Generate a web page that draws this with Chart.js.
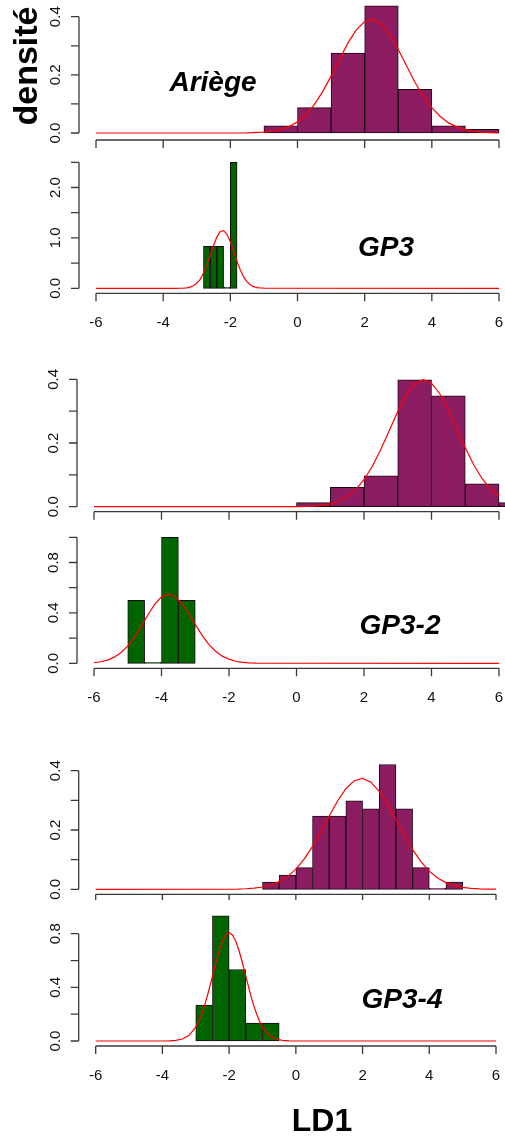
<!DOCTYPE html>
<html>
<head>
<meta charset="utf-8">
<script src="https://cdn.jsdelivr.net/npm/chart.js@4.4.1/dist/chart.umd.min.js"></script>
<style>
  html, body { margin: 0; padding: 0; background: #fff; }
  #wrap { position: relative; width: 505px; height: 1137px; overflow: hidden; }
  #wrap canvas { position: absolute; left: 0; }
</style>
</head>
<body>
<div id="wrap">
  <canvas id="c1" width="505" height="155" style="top:0px"></canvas>
  <canvas id="c2" width="505" height="185" style="top:155px"></canvas>
  <canvas id="c3" width="505" height="180" style="top:340px"></canvas>
  <canvas id="c4" width="505" height="200" style="top:520px"></canvas>
  <canvas id="c5" width="505" height="180" style="top:720px"></canvas>
  <canvas id="c6" width="505" height="237" style="top:900px"></canvas>
</div>
<script>
// --- données ---
const xTicks = [-6, -4, -2, 0, 2, 4, 6];
const xLabels = ["-6", "-4", "-2", "0", "2", "4", "6"];

// bloc 1 : Ariège / GP3
const ariegeMids = [-0.5, 0.5, 1.5, 2.5, 3.5, 4.5, 5.5];
const ariegeDens = [0.025, 0.0875, 0.275, 0.4375, 0.15, 0.025, 0.0125];
const ariegeCurveX = [-6, -1.5, -1, -0.75, -0.5, -0.25, 0, 0.25, 0.5, 0.75, 1, 1.25, 1.5, 1.75, 2, 2.25, 2.5, 2.75, 3, 3.25, 3.5, 3.75, 4, 4.25, 4.5, 4.75, 5, 5.25, 5.5, 5.75, 6];
const ariegeCurveY = [0, 0.0006, 0.0029, 0.006, 0.0118, 0.0219, 0.0382, 0.0628, 0.0975, 0.1423, 0.1957, 0.2533, 0.309, 0.3547, 0.3836, 0.3905, 0.3744, 0.3381, 0.2875, 0.2302, 0.1736, 0.1252, 0.0874, 0.0569, 0.0348, 0.0202, 0.011, 0.0055, 0.0026, 0.0011, 0.0004];

const gp3Mids = [-2.7, -2.5, -2.3, -2.1, -1.9];
const gp3Dens = [0.833, 0.833, 0.833, 0, 2.5];
const gp3CurveX = [-6, -3.6, -3.5, -3.4, -3.3, -3.2, -3.1, -3.0, -2.9, -2.8, -2.7, -2.6, -2.5, -2.4, -2.3, -2.2, -2.1, -2.0, -1.9, -1.8, -1.7, -1.6, -1.5, -1.4, -1.3, -1.2, -1.1, -1.0, 6];
const gp3CurveY = [0, 0.0003, 0.0014, 0.0039, 0.0099, 0.0231, 0.0496, 0.0981, 0.1783, 0.2984, 0.4597, 0.6516, 0.8496, 1.02, 1.1268, 1.1457, 1.072, 0.9232, 0.7316, 0.5337, 0.3583, 0.2213, 0.1258, 0.0658, 0.0317, 0.0141, 0.0057, 0.0021, 0];

// bloc 2 : (haut) / GP3-2
const bloc2Mids = [0.5, 1.5, 2.5, 3.5, 4.5, 5.5, 6.5];
const bloc2Dens = [0.013, 0.061, 0.097, 0.398, 0.348, 0.072, 0.013];
const bloc2CurveX = [-6, 0, 0.25, 0.5, 0.75, 1, 1.25, 1.5, 1.75, 2, 2.25, 2.5, 2.75, 3, 3.25, 3.5, 3.75, 4, 4.25, 4.5, 4.75, 5, 5.25, 5.5, 5.75, 6];
const bloc2CurveY = [0, 0.0003, 0.0008, 0.002, 0.0043, 0.0089, 0.0171, 0.031, 0.0529, 0.0848, 0.1276, 0.1804, 0.2396, 0.2989, 0.3503, 0.3858, 0.399, 0.3877, 0.3539, 0.3034, 0.2444, 0.185, 0.1315, 0.0878, 0.0551, 0.0345];

const gp32Mids = [-4.75, -4.25, -3.75, -3.25];
const gp32Dens = [0.5, 0, 1.0, 0.5];
const gp32CurveX = [-6, -5.8, -5.6, -5.4, -5.2, -5.0, -4.8, -4.6, -4.4, -4.2, -4.0, -3.8, -3.6, -3.4, -3.2, -3.0, -2.8, -2.6, -2.4, -2.2, -2.0, -1.8, -1.6, -1.4, -1.2, -1.0, 6];
const gp32CurveY = [0.0056, 0.0125, 0.0256, 0.0487, 0.086, 0.1356, 0.2062, 0.2928, 0.3856, 0.4689, 0.5276, 0.549, 0.5306, 0.4769, 0.3976, 0.3088, 0.2232, 0.1506, 0.096, 0.0567, 0.0326, 0.0165, 0.0076, 0.0032, 0.0012, 0.0004, 0];

// bloc 3 : (haut) / GP3-4
const bloc3Mids = [-0.75, -0.25, 0.25, 0.75, 1.25, 1.75, 2.25, 2.75, 3.25, 3.75, 4.25, 4.75];
const bloc3Dens = [0.024, 0.048, 0.073, 0.247, 0.247, 0.298, 0.271, 0.421, 0.271, 0.073, 0, 0.024];
const bloc3CurveX = [-6, -1.75, -1.5, -1.25, -1, -0.75, -0.5, -0.25, 0, 0.25, 0.5, 0.75, 1, 1.25, 1.5, 1.75, 2, 2.25, 2.5, 2.75, 3, 3.25, 3.5, 3.75, 4, 4.25, 4.5, 4.75, 5, 5.25, 5.5, 5.75, 6];
const bloc3CurveY = [0, 0.0009, 0.0019, 0.0039, 0.0078, 0.0145, 0.0257, 0.0429, 0.0681, 0.102, 0.1448, 0.1946, 0.2474, 0.2978, 0.3394, 0.3661, 0.374, 0.3614, 0.3306, 0.2863, 0.2347, 0.1821, 0.1338, 0.0931, 0.0612, 0.0381, 0.0225, 0.0126, 0.0066, 0.0033, 0.0016, 0.0007, 0.0003];

const gp34Mids = [-2.75, -2.25, -1.75, -1.25, -0.75];
const gp34Dens = [0.267, 0.933, 0.533, 0.133, 0.133];
const gp34CurveX = [-6, -4, -3.8, -3.6, -3.4, -3.2, -3.0, -2.9, -2.8, -2.7, -2.6, -2.5, -2.4, -2.3, -2.2, -2.1, -2.0, -1.9, -1.8, -1.7, -1.6, -1.5, -1.4, -1.3, -1.2, -1.1, -1.0, -0.8, -0.6, -0.4, -0.2, 0, 6];
const gp34CurveY = [0, 0, 0.0011, 0.0043, 0.0146, 0.0422, 0.104, 0.1534, 0.2176, 0.2957, 0.3858, 0.4836, 0.5814, 0.6711, 0.7435, 0.7906, 0.807, 0.7906, 0.7435, 0.6711, 0.5814, 0.4836, 0.3858, 0.2957, 0.2176, 0.1534, 0.104, 0.0422, 0.0146, 0.0043, 0.0011, 0, 0];

const yTicks04 = [0, 0.1, 0.2, 0.3, 0.4];
const yLabels04 = ["0.0", "", "0.2", "", "0.4"];
const yTicks25 = [0, 0.5, 1.0, 1.5, 2.0, 2.5];
const yLabels25 = ["0.0", "", "1.0", "", "2.0", ""];
const yTicks10 = [0, 0.2, 0.4, 0.6, 0.8, 1.0];
const yLabels10 = ["0.0", "", "0.4", "", "0.8", ""];
const yTicks08 = [0, 0.2, 0.4, 0.6, 0.8];
const yLabels08 = ["0.0", "", "0.4", "", "0.8"];

const PURPLE = "#8B1C62";
const GREEN = "#006400";
const FONT = '"Liberation Sans", Arial, sans-serif';

// axes façon R (décalés du cadre), dessinés via les échelles Chart.js
const axesR = {
  id: "axesR",
  afterDraw(chart, args, o) {
    const { ctx, chartArea } = chart;
    const xs = chart.scales.x, ys = chart.scales.y;
    ctx.save();
    ctx.strokeStyle = "#3a3a3a";
    ctx.lineWidth = 1.3;
    ctx.fillStyle = "#111";

    // axe y
    const ax = chartArea.left - 17;
    ctx.beginPath();
    ctx.moveTo(ax, ys.getPixelForValue(o.yTicks[0]));
    ctx.lineTo(ax, ys.getPixelForValue(o.yTicks[o.yTicks.length - 1]));
    o.yTicks.forEach((v) => {
      const py = ys.getPixelForValue(v);
      ctx.moveTo(ax, py);
      ctx.lineTo(ax - 8, py);
    });
    ctx.stroke();
    ctx.font = "15px " + FONT;
    ctx.textAlign = "center";
    ctx.textBaseline = "middle";
    o.yTicks.forEach((v, i) => {
      if (!o.yLabels[i]) return;
      ctx.save();
      ctx.translate(ax - 23, ys.getPixelForValue(v));
      ctx.rotate(-Math.PI / 2);
      ctx.fillText(o.yLabels[i], 0, 0);
      ctx.restore();
    });

    // axe x
    const ay = chartArea.bottom + o.gap;
    ctx.beginPath();
    ctx.moveTo(xs.getPixelForValue(xTicks[0]), ay);
    ctx.lineTo(xs.getPixelForValue(xTicks[xTicks.length - 1]), ay);
    xTicks.forEach((v) => {
      const px = xs.getPixelForValue(v);
      ctx.moveTo(px, ay);
      ctx.lineTo(px, ay + 8);
    });
    ctx.stroke();
    if (o.showX) {
      xTicks.forEach((v, i) => ctx.fillText(xLabels[i], xs.getPixelForValue(v), ay + 30));
    }

    // nom du groupe
    ctx.font = "italic bold 28px " + FONT;
    ctx.fillStyle = "#000";
    ctx.fillText(o.title, o.tx, o.ty);

    if (o.ylab) {
      ctx.save();
      ctx.font = "bold 34px " + FONT;
      ctx.translate(28, 66);
      ctx.rotate(-Math.PI / 2);
      ctx.fillText("densité", 0, 0);
      ctx.restore();
    }
    if (o.xlab) {
      ctx.font = "bold 32px " + FONT;
      ctx.fillText("LD1", 322, 222);
    }
    ctx.restore();
  },
};

function makeHist(id, mids, dens, cx, cy, color, ymax, pad, axOpts) {
  const ctx = document.getElementById(id).getContext("2d");
  return new Chart(ctx, {
    type: "bar",
    data: {
      datasets: [
        {
          type: "line",
          data: cx.map((x, i) => ({ x: x, y: cy[i] })),
          borderColor: "#FF0000",
          borderWidth: 1.2,
          pointRadius: 0,
          tension: 0,
          fill: false,
          clip: false,
        },
        {
          type: "bar",
          data: mids.map((x, i) => ({ x: x, y: dens[i] })),
          backgroundColor: color,
          borderColor: "#1a0a14",
          borderWidth: 1,
          borderSkipped: false,
          barPercentage: 1,
          categoryPercentage: 1,
          minBarLength: 1,
          clip: false,
        },
      ],
    },
    options: {
      responsive: false,
      animation: false,
      events: [],
      layout: { padding: pad },
      scales: {
        x: { type: "linear", min: -6, max: 6, offset: false, display: false, ticks: { stepSize: 2 } },
        y: { type: "linear", min: 0, max: ymax, display: false },
      },
      plugins: {
        legend: { display: false },
        tooltip: { enabled: false },
        axesR: axOpts,
      },
    },
    plugins: [axesR],
  });
}

// panneaux : padding = position de la zone de tracé dans chaque canvas
makeHist("c1", ariegeMids, ariegeDens, ariegeCurveX, ariegeCurveY, PURPLE, 0.4,
  { left: 96, right: 6, top: 16.7, bottom: 22 },
  { yTicks: yTicks04, yLabels: yLabels04, gap: 7, showX: false, title: "Ariège", tx: 213, ty: 83, ylab: true });
makeHist("c2", gp3Mids, gp3Dens, gp3CurveX, gp3CurveY, GREEN, 2.5,
  { left: 96, right: 6, top: 7.3, bottom: 51.7 },
  { yTicks: yTicks25, yLabels: yLabels25, gap: 5, showX: true, title: "GP3", tx: 386, ty: 93 });
makeHist("c3", bloc2Mids, bloc2Dens, bloc2CurveX, bloc2CurveY, PURPLE, 0.4,
  { left: 94, right: 6, top: 39.3, bottom: 13.3 },
  { yTicks: yTicks04, yLabels: yLabels04, gap: 5, showX: false, title: "", tx: 0, ty: 0 });
makeHist("c4", gp32Mids, gp32Dens, gp32CurveX, gp32CurveY, GREEN, 1.0,
  { left: 94, right: 6, top: 17.3, bottom: 56.7 },
  { yTicks: yTicks10, yLabels: yLabels10, gap: 5, showX: true, title: "GP3-2", tx: 400, ty: 106 });
makeHist("c5", bloc3Mids, bloc3Dens, bloc3CurveX, bloc3CurveY, PURPLE, 0.4,
  { left: 95.7, right: 9, top: 50.7, bottom: 10.7 },
  { yTicks: yTicks04, yLabels: yLabels04, gap: 5, showX: false, title: "", tx: 0, ty: 0 });
makeHist("c6", gp34Mids, gp34Dens, gp34CurveX, gp34CurveY, GREEN, 0.8,
  { left: 95.7, right: 9, top: 33.7, bottom: 96 },
  { yTicks: yTicks08, yLabels: yLabels08, gap: 5, showX: true, title: "GP3-4", tx: 402, ty: 100, xlab: true });
</script>
</body>
</html>
